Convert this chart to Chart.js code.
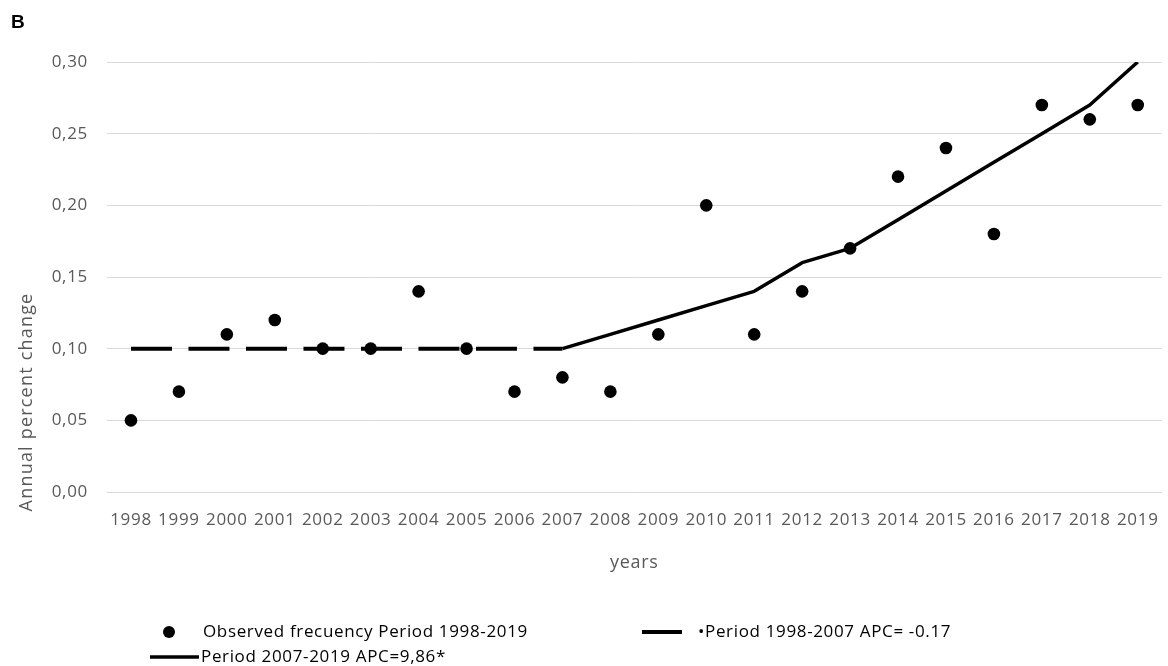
<!DOCTYPE html>
<html>
<head>
<meta charset="utf-8">
<script src="https://cdn.jsdelivr.net/npm/chart.js@4/dist/chart.umd.min.js"></script>
<style>
  html, body { margin: 0; padding: 0; background: #ffffff; }
  #wrap { position: relative; width: 1168px; height: 666px; }
</style>
</head>
<body>
<div id="wrap"><canvas id="c" width="1168" height="666"></canvas></div>
<script>
// ---- data ----
const years = ['1998','1999','2000','2001','2002','2003','2004','2005','2006','2007','2008',
               '2009','2010','2011','2012','2013','2014','2015','2016','2017','2018','2019'];
const observed = [0.05,0.07,0.11,0.12,0.10,0.10,0.14,0.10,0.07,0.08,0.07,
                  0.11,0.20,0.11,0.14,0.17,0.22,0.24,0.18,0.27,0.26,0.27];
const period1 = [0.10,0.10,0.10,0.10,0.10,0.10,0.10,0.10,0.10,0.10,null,
                 null,null,null,null,null,null,null,null,null,null,null];
const period2 = [null,null,null,null,null,null,null,null,null,0.10,0.11,
                 0.12,0.13,0.14,0.16,0.17,0.19,0.21,0.23,0.25,0.27,0.30];
const yTicks = [0,0.05,0.10,0.15,0.20,0.25,0.30];
const legendLabels = ['Observed frecuency Period 1998-2019',
                      '\u2022Period 1998-2007 APC= -0.17',
                      'Period 2007-2019 APC=9,86*'];
const yTitle = 'Annual percent change';
const xTitle = 'years';
const panelLabel = 'B';

const tickFont = { family: 'Open Sans', size: 17, weight: '500' };
const gray = '#595959';

const spacing = {
  id: 'spacing',
  beforeDraw(chart) { chart.ctx.letterSpacing = '0.7px'; },
  afterDraw(chart) { chart.ctx.letterSpacing = '0px'; }
};

const extras = {
  id: 'extras',
  afterDraw(chart) {
    const ctx = chart.ctx;
    ctx.save();
    // panel letter
    ctx.letterSpacing = '0px';
    ctx.fillStyle = '#000';
    ctx.font = 'bold 19px "Liberation Sans"';
    ctx.textBaseline = 'middle';
    ctx.textAlign = 'left';
    ctx.fillText(panelLabel, 11, 23);
    // y title (rotated)
    ctx.save();
    ctx.translate(27, 402);
    ctx.rotate(-Math.PI / 2);
    ctx.fillStyle = gray;
    ctx.font = '500 18px "Open Sans"';
    ctx.letterSpacing = '1.2px';
    ctx.textAlign = 'center';
    ctx.textBaseline = 'middle';
    ctx.fillText(yTitle, 0, 0);
    ctx.restore();
    // legend
    ctx.fillStyle = '#000';
    ctx.strokeStyle = '#000';
    ctx.font = '17px "Open Sans"';
    ctx.letterSpacing = '0.65px';
    ctx.textAlign = 'left';
    ctx.textBaseline = 'middle';
    // row 1 left: dot
    ctx.beginPath();
    ctx.arc(169, 632, 6, 0, Math.PI * 2);
    ctx.fill();
    ctx.fillText(legendLabels[0], 203, 632);
    // row 1 right: dashed segment
    ctx.lineWidth = 4;
    ctx.beginPath();
    ctx.moveTo(642, 632); ctx.lineTo(682, 632);
    ctx.stroke();
    ctx.fillText(legendLabels[1], 698, 632);
    // row 2: solid
    ctx.lineWidth = 3.5;
    ctx.beginPath();
    ctx.moveTo(150, 657); ctx.lineTo(199, 657);
    ctx.stroke();
    ctx.fillText(legendLabels[2], 201, 657);
    ctx.restore();
  }
};

new Chart(document.getElementById('c'), {
  type: 'line',
  data: {
    labels: years,
    datasets: [
      {
        label: legendLabels[0],
        data: observed,
        showLine: false,
        pointRadius: 6.3,
        pointHoverRadius: 6.3,
        pointBackgroundColor: '#000',
        pointBorderColor: '#000',
        pointBorderWidth: 0,
        order: 0
      },
      {
        label: legendLabels[1],
        data: period1,
        borderColor: '#000',
        borderWidth: 4,
        borderDash: [41, 16.5],
        borderCapStyle: 'butt',
        pointRadius: 0,
        spanGaps: false,
        tension: 0,
        order: 2
      },
      {
        label: legendLabels[2],
        data: period2,
        borderColor: '#000',
        borderWidth: 3.5,
        pointRadius: 0,
        spanGaps: false,
        tension: 0,
        borderJoinStyle: 'round',
        order: 1
      }
    ]
  },
  options: {
    responsive: false,
    animation: false,
    layout: { padding: { top: 62, right: -2, left: 0, bottom: 84 } },
    plugins: {
      legend: { display: false },
      tooltip: { enabled: false }
    },
    scales: {
      x: {
        offset: true,
        grid: { display: false, drawTicks: false },
        border: { display: true, color: '#d9d9d9', width: 1 },
        ticks: { color: gray, font: tickFont, padding: 18, autoSkip: false, maxRotation: 0 },
        title: { display: true, text: xTitle, color: gray, font: { family: 'Open Sans', size: 18, weight: '500' }, padding: { top: 0, bottom: 8 } },
        afterFit(s) { s.height = 90; s.paddingLeft = 0; s.paddingRight = 0; }
      },
      y: {
        min: 0,
        max: 0.30,
        afterBuildTicks(s) { s.ticks = yTicks.map(v => ({ value: v })); },
        grid: { color: '#d9d9d9', lineWidth: 1, drawTicks: false },
        border: { display: false },
        ticks: {
          color: gray, font: tickFont, padding: 19,
          callback: v => v.toFixed(2).replace('.', ',')
        },
        afterFit(s) { s.width = 107; s.paddingTop = 0; s.paddingBottom = 0; }
      }
    }
  },
  plugins: [spacing, extras]
});
</script>
</body>
</html>
